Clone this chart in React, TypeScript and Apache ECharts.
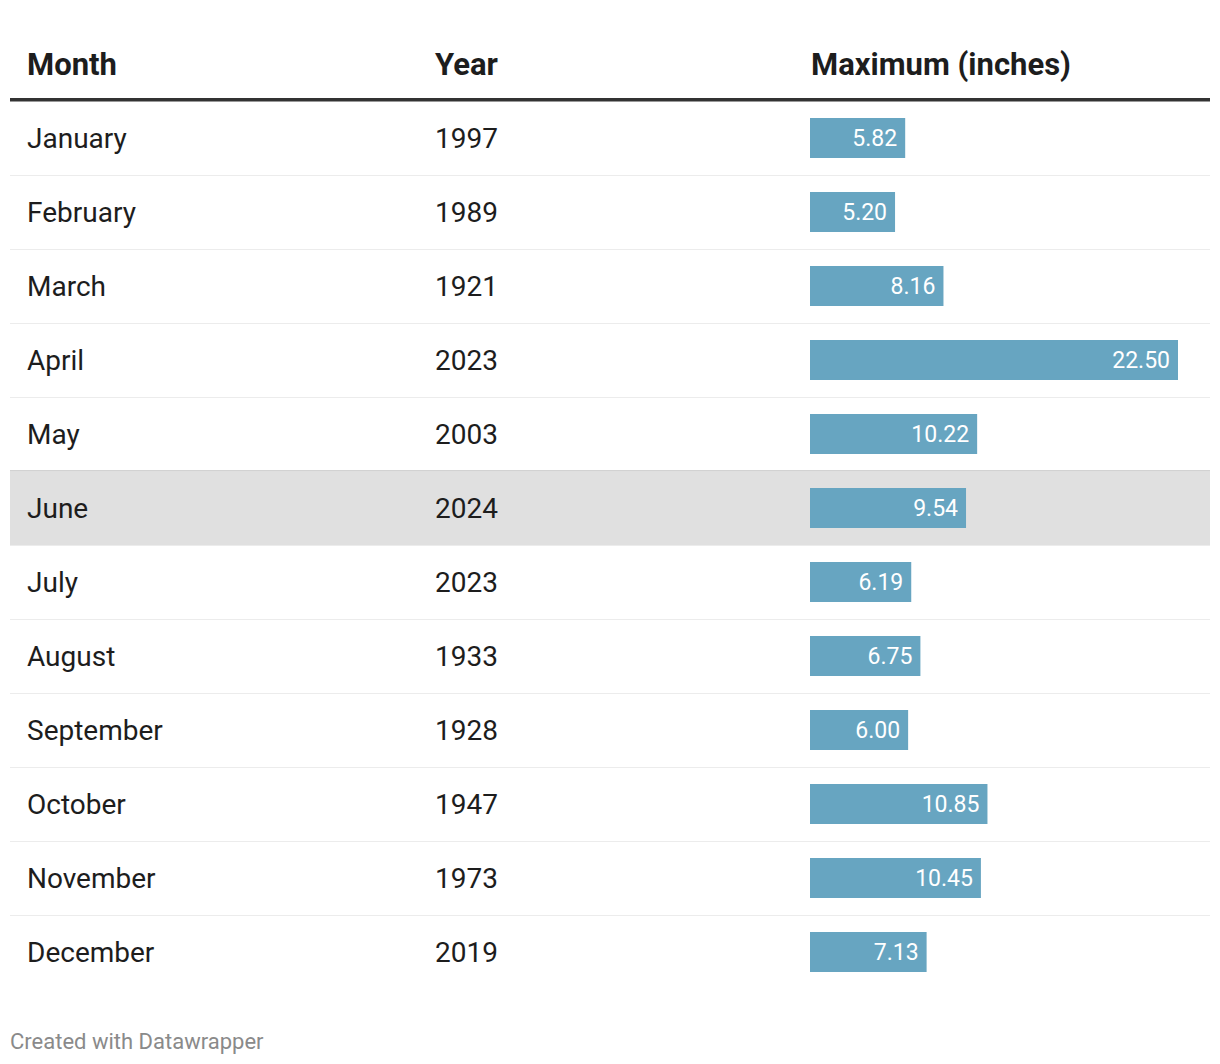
import React, { useEffect, useRef } from "react";
import * as echarts from "echarts";

const months = [
  "January", "February", "March", "April", "May", "June",
  "July", "August", "September", "October", "November", "December",
];
const years = ["1997", "1989", "1921", "2023", "2003", "2024", "2023", "1933", "1928", "1947", "1973", "2019"];
const maxInches = [5.82, 5.2, 8.16, 22.5, 10.22, 9.54, 6.19, 6.75, 6.0, 10.85, 10.45, 7.13];
const headers = ["Month", "Year", "Maximum (inches)"];
const highlighted = "June";
const footer = "Created with Datawrapper";

const FONT = "Roboto, 'Noto Sans', sans-serif";
const TOP = 101;
const ROW_H = 74;
const BODY_H = ROW_H * months.length;
const COL_X = [27, 435, 811];

export default function App() {
  const ref = useRef<HTMLDivElement>(null);
  useEffect(() => {
    document.body.style.margin = "0";
    const chart = echarts.init(ref.current!, null, { renderer: "svg" });
    const hidden = { show: false };
    chart.setOption({
      animation: false,
      backgroundColor: "#ffffff",
      grid: [
        { left: 10, top: TOP, width: 1200, height: BODY_H },
        { left: COL_X[1], top: TOP, width: 300, height: BODY_H },
        { left: 810, top: TOP, width: 368, height: BODY_H },
      ],
      xAxis: [
        { type: "value", gridIndex: 0, min: 0, max: 1, show: false },
        { type: "value", gridIndex: 1, min: 0, max: 1, show: false },
        { type: "value", gridIndex: 2, min: 0, max: 22.5, show: false },
      ],
      yAxis: [
        {
          type: "category",
          gridIndex: 0,
          data: months,
          inverse: true,
          z: 5,
          axisLine: hidden,
          axisTick: hidden,
          axisLabel: {
            inside: true,
            interval: 0,
            margin: 17,
            fontSize: 28,
            color: "#1d1d1d",
            fontFamily: FONT,
          },
          splitLine: {
            show: true,
            interval: 0,
            showMinLine: false,
            showMaxLine: false,
            lineStyle: { color: "#ececec", width: 1 },
          },
        },
        {
          type: "category",
          gridIndex: 1,
          data: years,
          inverse: true,
          z: 5,
          axisLine: hidden,
          axisTick: hidden,
          axisLabel: {
            inside: true,
            interval: 0,
            margin: 0,
            fontSize: 28,
            color: "#1d1d1d",
            fontFamily: FONT,
          },
          splitLine: hidden,
        },
        {
          type: "category",
          gridIndex: 2,
          data: months,
          inverse: true,
          show: false,
        },
      ],
      series: [
        {
          type: "bar",
          xAxisIndex: 0,
          yAxisIndex: 0,
          data: months.map((m) => (m === highlighted ? 1 : 0)),
          barWidth: "100%",
          silent: true,
          z: 1,
          itemStyle: { color: "#e0e0e0" },
        },
        {
          type: "bar",
          xAxisIndex: 2,
          yAxisIndex: 2,
          data: maxInches,
          barWidth: 40,
          z: 6,
          itemStyle: { color: "#67a5c1" },
          label: {
            show: true,
            position: "insideRight",
            distance: 8,
            color: "#ffffff",
            fontSize: 23,
            fontFamily: FONT,
            formatter: (p: any) => Number(p.value).toFixed(2),
          },
        },
      ],
      graphic: [
        ...headers.map((h, i) => ({
          type: "text",
          x: COL_X[i],
          y: 64,
          style: {
            text: h,
            font: `bold 31px ${FONT}`,
            fill: "#1d1d1d",
            verticalAlign: "middle",
          },
        })),
        {
          type: "rect",
          shape: { x: 10, y: 98, width: 1200, height: 3.5 },
          style: { fill: "#333333" },
          z: 10,
        },
        {
          type: "rect",
          shape: { x: 10, y: 470, width: 1200, height: 1.5 },
          style: { fill: "#d2d2d2" },
          z: 10,
        },
        {
          type: "text",
          x: 10,
          y: 1041,
          style: {
            text: footer,
            font: `22px ${FONT}`,
            fill: "#8a8a8a",
            verticalAlign: "middle",
          },
        },
      ],
    });
    return () => chart.dispose();
  }, []);
  return <div ref={ref} style={{ width: 1220, height: 1064 }} />;
}
